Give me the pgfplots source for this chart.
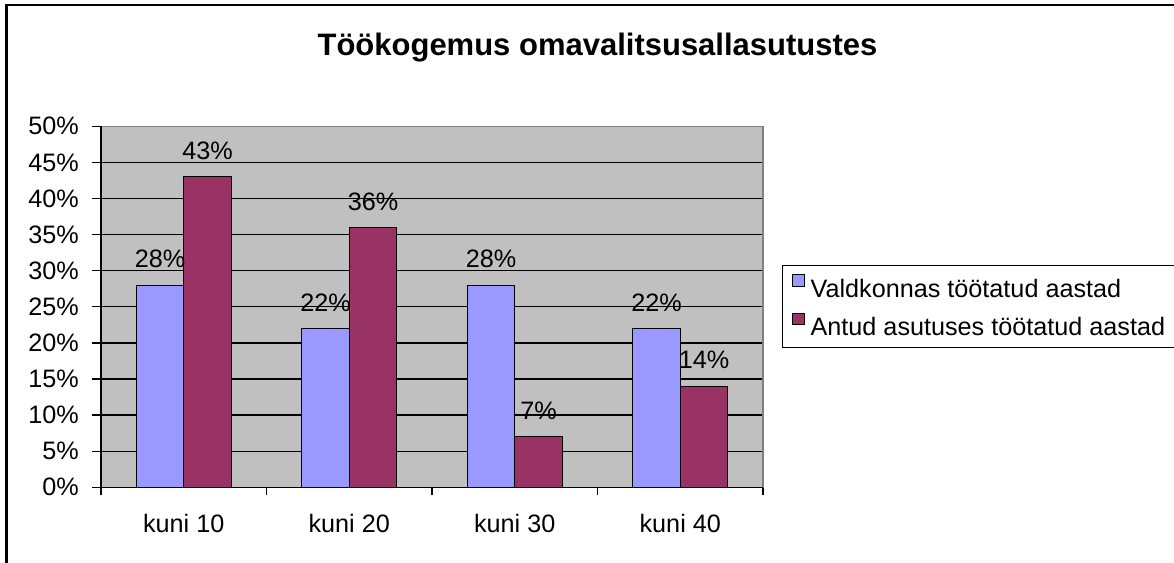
\documentclass[border=0pt]{standalone}
\usepackage{fontspec}
\setmainfont{Liberation Sans}
\usepackage{pgfplots}
\pgfplotsset{compat=1.18}
\definecolor{barblue}{HTML}{9999FF}
\definecolor{barred}{HTML}{993366}
\definecolor{plotgray}{HTML}{C0C0C0}
\definecolor{bordergray}{HTML}{808080}
\newcommand\fs{\fontsize{25.2}{29}\selectfont}
\begin{document}
\begin{tikzpicture}[x=1pt,y=1pt]
\draw[line width=2.2pt, black] (6.5,-20) -- (6.5,556.7) -- (1200,556.7);
\node[font=\fontsize{31}{36}\selectfont\bfseries, anchor=base, inner sep=0pt] at (597.5,506) {Töökogemus omavalitsusallasutustes};
\begin{axis}[
  at={(101pt,74.7pt)}, anchor=south west,
  scale only axis, width=662pt, height=361pt,
  xmin=-0.5, xmax=3.5, ymin=0, ymax=50,
  ybar=0pt, bar width=47.5pt,
  axis background/.style={fill=plotgray},
  axis line style={draw=bordergray, line width=1.3pt},
  ymajorgrids, grid style={black, line width=1.3pt},
  xtick={0,1,2,3}, xticklabels={kuni 10, kuni 20, kuni 30, kuni 40},
  minor xtick={-0.5,0.5,1.5,2.5,3.5},
  ytick={0,5,...,50},
  yticklabel={\pgfmathprintnumber{\tick}\%},
  /pgf/number format/assume math mode=true,
  tick align=outside, tick pos=left,
  major tick length=9pt, minor tick length=8pt,
  every tick/.style={black, line width=1.3pt},
  major x tick style={draw=none},
  ticklabel style={font=\fs},
  xticklabel style={anchor=base, yshift=-36.4pt, inner sep=0pt},
  yticklabel style={anchor=east, xshift=-13pt, inner sep=0pt},
  nodes near coords={\pgfmathprintnumber{\pgfplotspointmeta}\%},
  nodes near coords style={font=\fs, anchor=base, yshift=17.3pt, inner sep=0pt, text=black},
  clip=false,
  legend style={at={(1.0287,0.6158)}, anchor=north west, draw=black, line width=1.3pt, fill=white, font=\fs,
    inner xsep=9.5pt, inner ysep=6pt, row sep=6.6pt,
    nodes={inner sep=0pt, text height=25.7pt, text depth=6pt},
    /tikz/every odd column/.append style={column sep=6pt}},
  legend cell align=left,
  legend image code/.code={\draw[#1, draw=black, line width=1pt] (0pt,1pt) rectangle (11.5pt,12.5pt);},
]
\addplot[fill=barblue, draw=black, line width=1.2pt] coordinates {(0,28) (1,22) (2,28) (3,22)};
\addplot[fill=barred, draw=black, line width=1.2pt] coordinates {(0,43) (1,36) (2,7) (3,14)};
\legend{Valdkonnas töötatud aastad, Antud asutuses töötatud aastad}
\draw[black, line width=1.3pt] (rel axis cs:0,1) -- (rel axis cs:0,0) -- (rel axis cs:1,0);
\end{axis}
\pgfresetboundingbox
\useasboundingbox (0,0) rectangle (1174,562);
\end{tikzpicture}
\end{document}
